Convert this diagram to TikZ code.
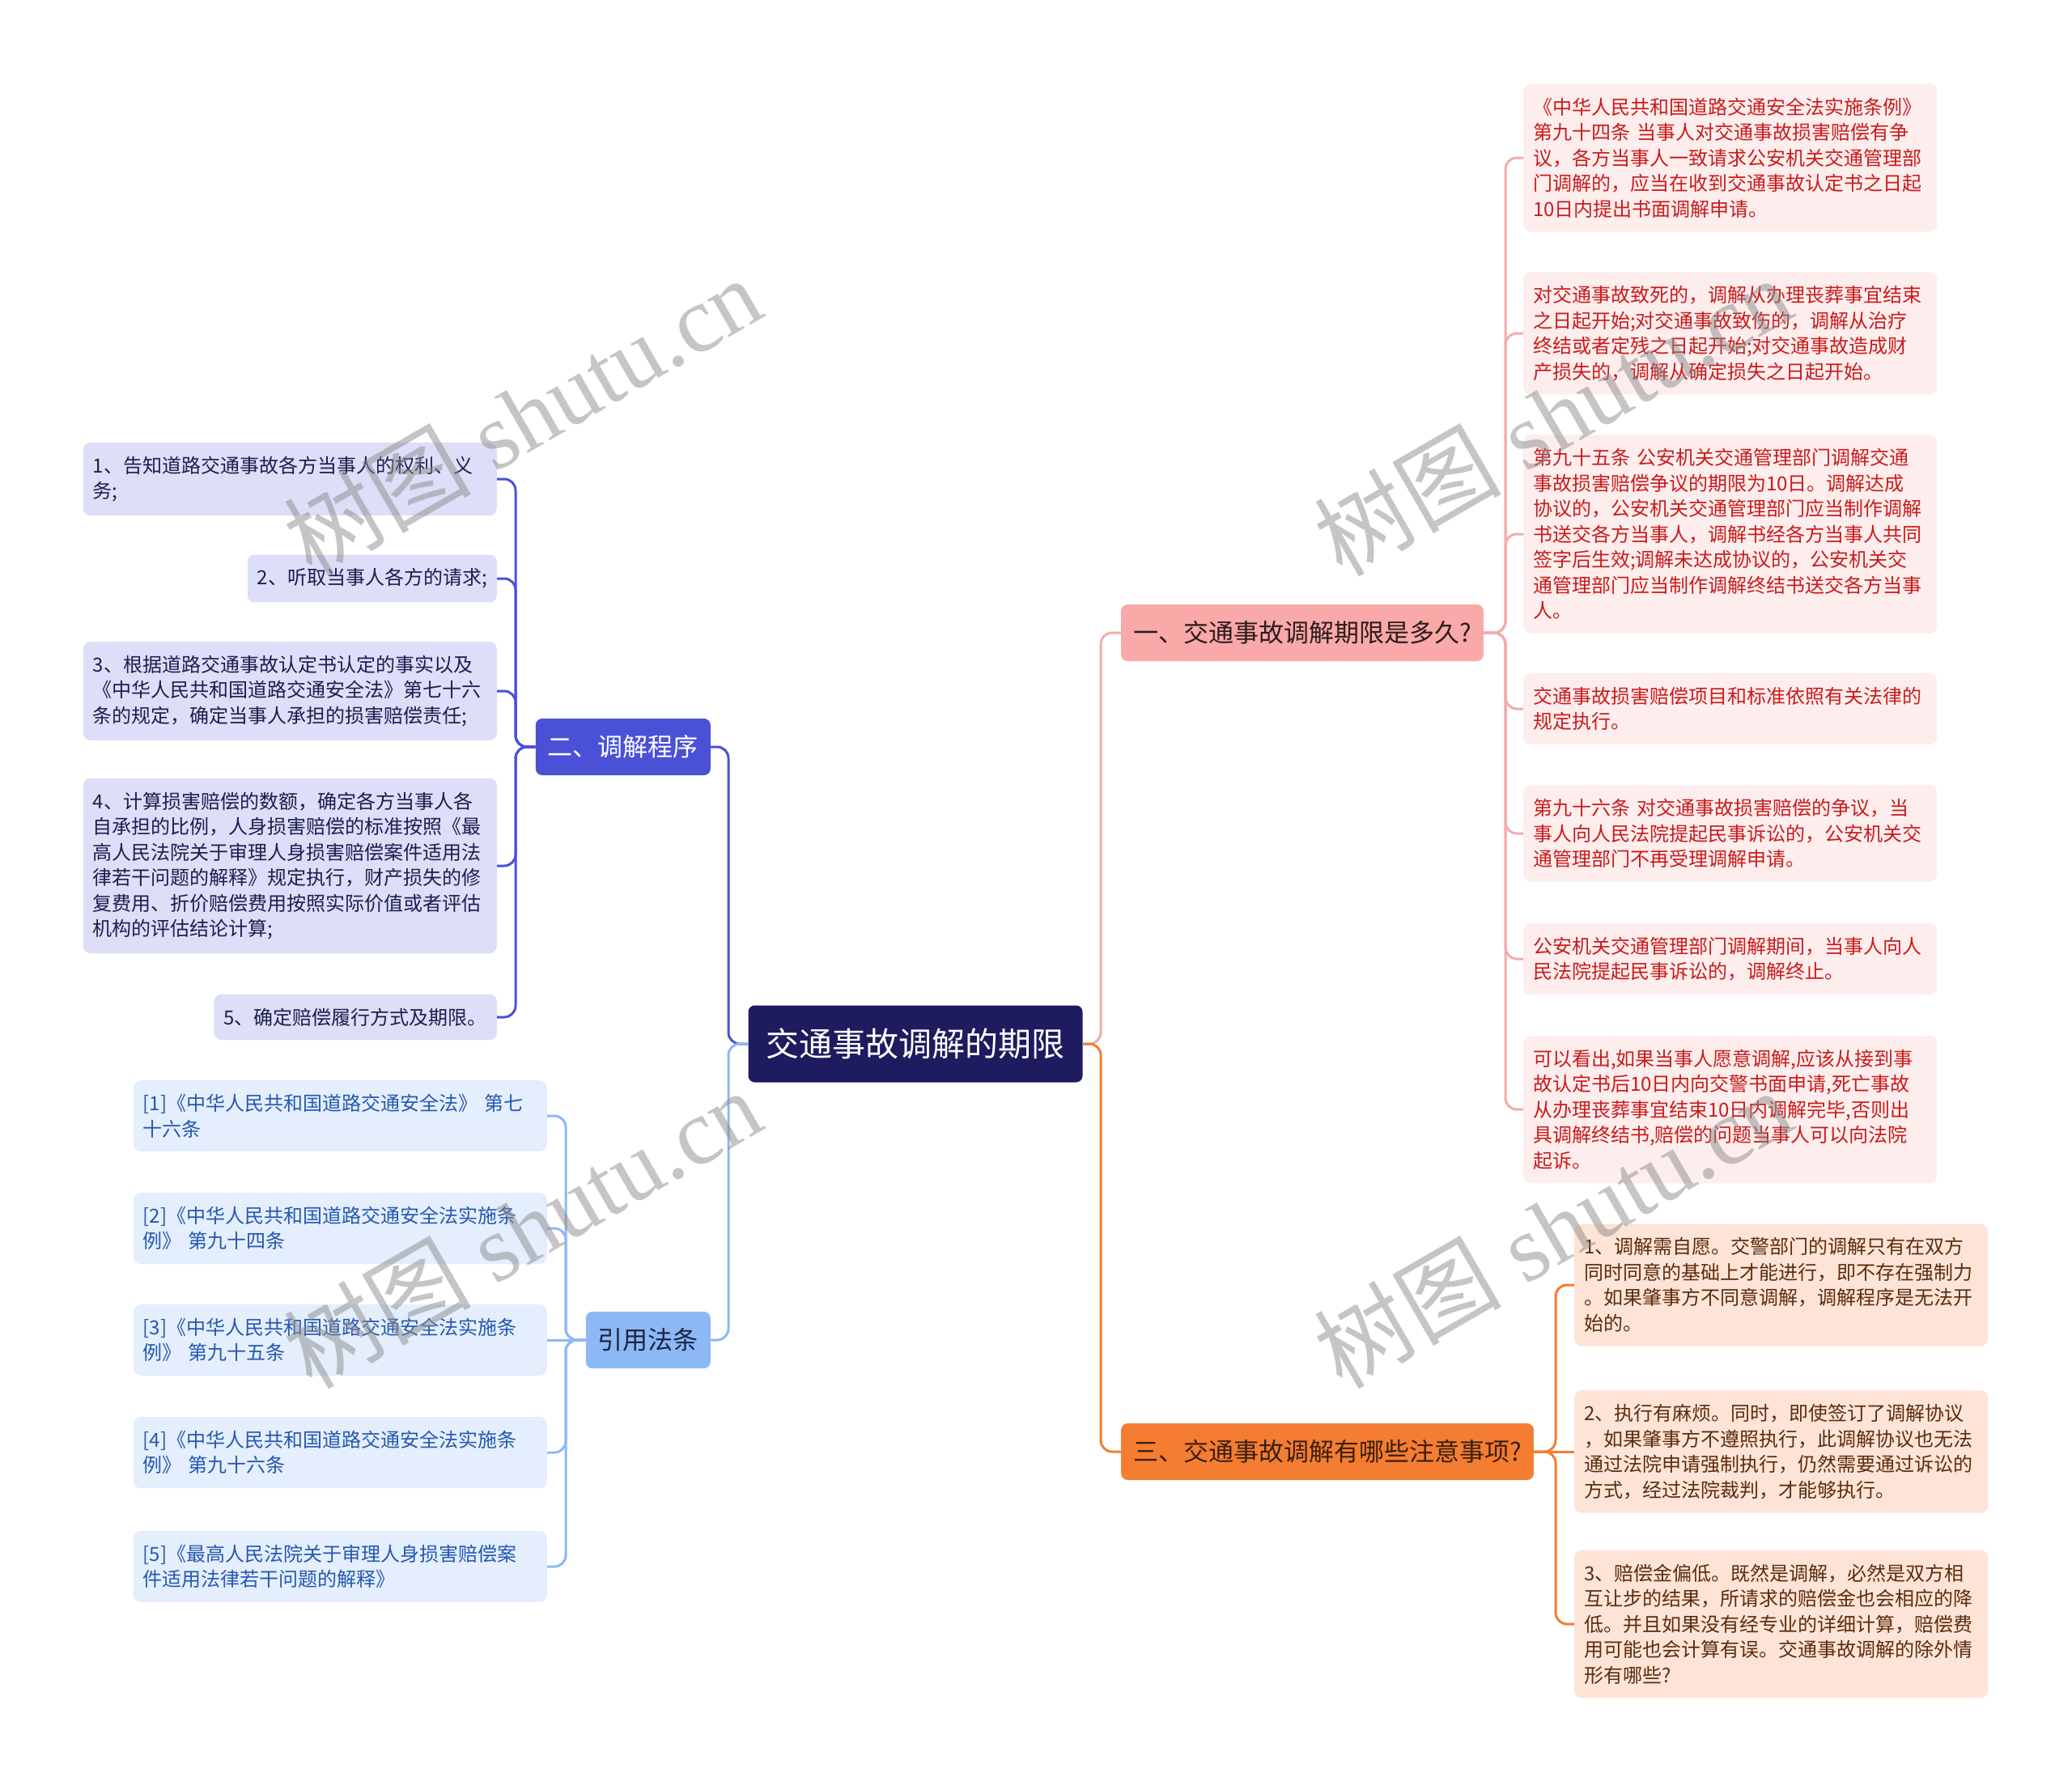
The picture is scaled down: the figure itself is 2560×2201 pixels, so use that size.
\documentclass[tikz,border=0pt]{standalone}
\usepackage{fontspec}
\usetikzlibrary{positioning}
\newfontfamily\cjkfont{Noto Sans CJK SC}
\newfontfamily\markfont{Liberation Serif}
\definecolor{rootcol}{RGB}{30,27,95}
\definecolor{pinkcol}{RGB}{248,169,168}
\definecolor{pinkline}{RGB}{242,172,172}
\definecolor{pinkleaf}{RGB}{253,237,237}
\definecolor{pinktext}{RGB}{200,28,28}
\definecolor{pinkdark}{RGB}{45,27,27}
\definecolor{indigocol}{RGB}{74,81,214}
\definecolor{indigoleaf}{RGB}{221,222,248}
\definecolor{indigotext}{RGB}{28,30,78}
\definecolor{orangecol}{RGB}{244,125,50}
\definecolor{orangeleaf}{RGB}{253,228,214}
\definecolor{orangetext}{RGB}{92,44,14}
\definecolor{orangedark}{RGB}{58,31,15}
\definecolor{skycol}{RGB}{141,184,246}
\definecolor{skyleaf}{RGB}{228,238,252}
\definecolor{skytext}{RGB}{38,88,176}
\definecolor{skydark}{RGB}{27,37,64}

\begin{document}
\begin{tikzpicture}[
  x=1pt, y=-1pt,
  rootNode/.style={fill=rootcol, text=white, rounded corners=8pt,
                   font=\cjkfont\fontsize{41}{48}\selectfont,
                   minimum height=95pt, inner xsep=22pt},
  topic/.style={rounded corners=8pt, font=\cjkfont\fontsize{31}{38}\selectfont,
                minimum height=70pt, inner xsep=15pt},
  topicA/.style={topic, fill=pinkcol, text=pinkdark},
  topicB/.style={topic, fill=indigocol, text=white},
  topicC/.style={topic, fill=orangecol, text=orangedark},
  topicD/.style={topic, fill=skycol, text=skydark},
  leaf/.style={rounded corners=9pt, align=left,
               font=\cjkfont\fontsize{24}{31.5}\selectfont,
               inner xsep=12pt, inner ysep=17pt},
  fullW/.style={text width=487pt},
  leafA/.style={leaf, fullW, fill=pinkleaf, text=pinktext},
  leafB/.style={leaf, fill=indigoleaf, text=indigotext},
  leafC/.style={leaf, fullW, fill=orangeleaf, text=orangetext},
  leafD/.style={leaf, fullW, fill=skyleaf, text=skytext},
  link/.style={line width=3pt, rounded corners=14pt},
  linkA/.style={link, draw=pinkline},
  linkB/.style={link, draw=indigocol},
  linkC/.style={link, draw=orangecol},
  linkD/.style={link, draw=skycol},
  wmark/.style={rotate=30, text=black!45, opacity=0.5,
                font=\markfont\fontsize{116}{120}\selectfont},
]
\useasboundingbox (0,0) rectangle (2560,2201);
\fill[white] (0,0) rectangle (2560,2201);

% --- Root and topics ---
\node[rootNode] (root) at (1131,1290) {交通事故调解的期限};
\node[topicA, anchor=west] (q1) at (1385,782) {一、交通事故调解期限是多久?};
\node[topicB, anchor=east] (q2) at (878,923) {二、调解程序};
\node[topicC, anchor=west] (q3) at (1385,1794) {三、交通事故调解有哪些注意事项?};
\node[topicD, anchor=east] (q4) at (878,1656) {引用法条};

% --- Topic one: time limits ---
\node[leafA, anchor=west] (p1) at (1882,195) {《中华人民共和国道路交通安全法实施条例》\\第九十四条 当事人对交通事故损害赔偿有争\\议，各方当事人一致请求公安机关交通管理部\\门调解的，应当在收到交通事故认定书之日起\\10日内提出书面调解申请。};
\node[leafA, anchor=west] (p2) at (1882,412) {对交通事故致死的，调解从办理丧葬事宜结束\\之日起开始;对交通事故致伤的，调解从治疗\\终结或者定残之日起开始;对交通事故造成财\\产损失的，调解从确定损失之日起开始。};
\node[leafA, anchor=west] (p3) at (1882,660) {第九十五条 公安机关交通管理部门调解交通\\事故损害赔偿争议的期限为10日。调解达成\\协议的，公安机关交通管理部门应当制作调解\\书送交各方当事人，调解书经各方当事人共同\\签字后生效;调解未达成协议的，公安机关交\\通管理部门应当制作调解终结书送交各方当事\\人。};
\node[leafA, anchor=west] (p4) at (1882,876) {交通事故损害赔偿项目和标准依照有关法律的\\规定执行。};
\node[leafA, anchor=west] (p5) at (1882,1030) {第九十六条 对交通事故损害赔偿的争议，当\\事人向人民法院提起民事诉讼的，公安机关交\\通管理部门不再受理调解申请。};
\node[leafA, anchor=west] (p6) at (1882,1185) {公安机关交通管理部门调解期间，当事人向人\\民法院提起民事诉讼的，调解终止。};
\node[leafA, anchor=west] (p7) at (1882,1371) {可以看出,如果当事人愿意调解,应该从接到事\\故认定书后10日内向交警书面申请,死亡事故\\从办理丧葬事宜结束10日内调解完毕,否则出\\具调解终结书,赔偿的问题当事人可以向法院\\起诉。};

% --- Topic three: points to note ---
\node[leafC, anchor=west] (o1) at (1945,1588) {1、调解需自愿。交警部门的调解只有在双方\\同时同意的基础上才能进行，即不存在强制力\\。如果肇事方不同意调解，调解程序是无法开\\始的。};
\node[leafC, anchor=west] (o2) at (1945,1794) {2、执行有麻烦。同时，即使签订了调解协议\\，如果肇事方不遵照执行，此调解协议也无法\\通过法院申请强制执行，仍然需要通过诉讼的\\方式，经过法院裁判，才能够执行。};
\node[leafC, anchor=west] (o3) at (1945,2007) {3、赔偿金偏低。既然是调解，必然是双方相\\互让步的结果，所请求的赔偿金也会相应的降\\低。并且如果没有经专业的详细计算，赔偿费\\用可能也会计算有误。交通事故调解的除外情\\形有哪些?};

% --- Topic two: procedure ---
\node[leafB, fullW, anchor=east] (b1) at (614,592) {1、告知道路交通事故各方当事人的权利、义\\务;};
\node[leafB, anchor=east] (b2) at (614,715) {2、听取当事人各方的请求;};
\node[leafB, fullW, anchor=east] (b3) at (614,854) {3、根据道路交通事故认定书认定的事实以及\\《中华人民共和国道路交通安全法》第七十六\\条的规定，确定当事人承担的损害赔偿责任;};
\node[leafB, fullW, anchor=east] (b4) at (614,1070) {4、计算损害赔偿的数额，确定各方当事人各\\自承担的比例，人身损害赔偿的标准按照《最\\高人民法院关于审理人身损害赔偿案件适用法\\律若干问题的解释》规定执行，财产损失的修\\复费用、折价赔偿费用按照实际价值或者评估\\机构的评估结论计算;};
\node[leafB, anchor=east] (b5) at (614,1257) {5、确定赔偿履行方式及期限。};

% --- Cited articles ---
\node[leafD, anchor=east] (c1) at (676,1379) {[1]《中华人民共和国道路交通安全法》 第七\\十六条};
\node[leafD, anchor=east] (c2) at (676,1518) {[2]《中华人民共和国道路交通安全法实施条\\例》 第九十四条};
\node[leafD, anchor=east] (c3) at (676,1656) {[3]《中华人民共和国道路交通安全法实施条\\例》 第九十五条};
\node[leafD, anchor=east] (c4) at (676,1795) {[4]《中华人民共和国道路交通安全法实施条\\例》 第九十六条};
\node[leafD, anchor=east] (c5) at (676,1936) {[5]《最高人民法院关于审理人身损害赔偿案\\件适用法律若干问题的解释》};

% --- Links from root ---
\draw[linkA] (q1.west) -- ++(-25,0) |- (root.east);
\draw[linkC] (q3.west) -- ++(-25,0) |- (root.east);
\draw[linkB] (q2.east) -- ++(22,0) |- (root.west);
\draw[linkD] (q4.east) -- ++(22,0) |- (root.west);

% --- Links to leaves ---
\foreach \i in {1,...,7}
  \draw[linkA] (p\i.west) -- ++(-22,0) |- (q1.east);
\foreach \i in {1,3}
  \draw[linkC] (o\i.west) -- ++(-23,0) |- (q3.east);
\draw[linkC] (o2.west) -- (q3.east);
\foreach \i in {1,...,5}
  \draw[linkB] (b\i.east) -- ++(23,0) |- (q2.west);
\foreach \i in {1,2,4,5}
  \draw[linkD] (c\i.east) -- ++(23,0) |- (q4.west);
\draw[linkD] (c3.east) -- (q4.west);

% --- Watermarks ---
\foreach \p [count=\k] in {(645,514),(645,1518),(1918,514),(1918,1518)}
  \node[wmark] (wm\k) at \p {{\cjkfont 树图} shutu.cn};

\end{tikzpicture}
\end{document}
